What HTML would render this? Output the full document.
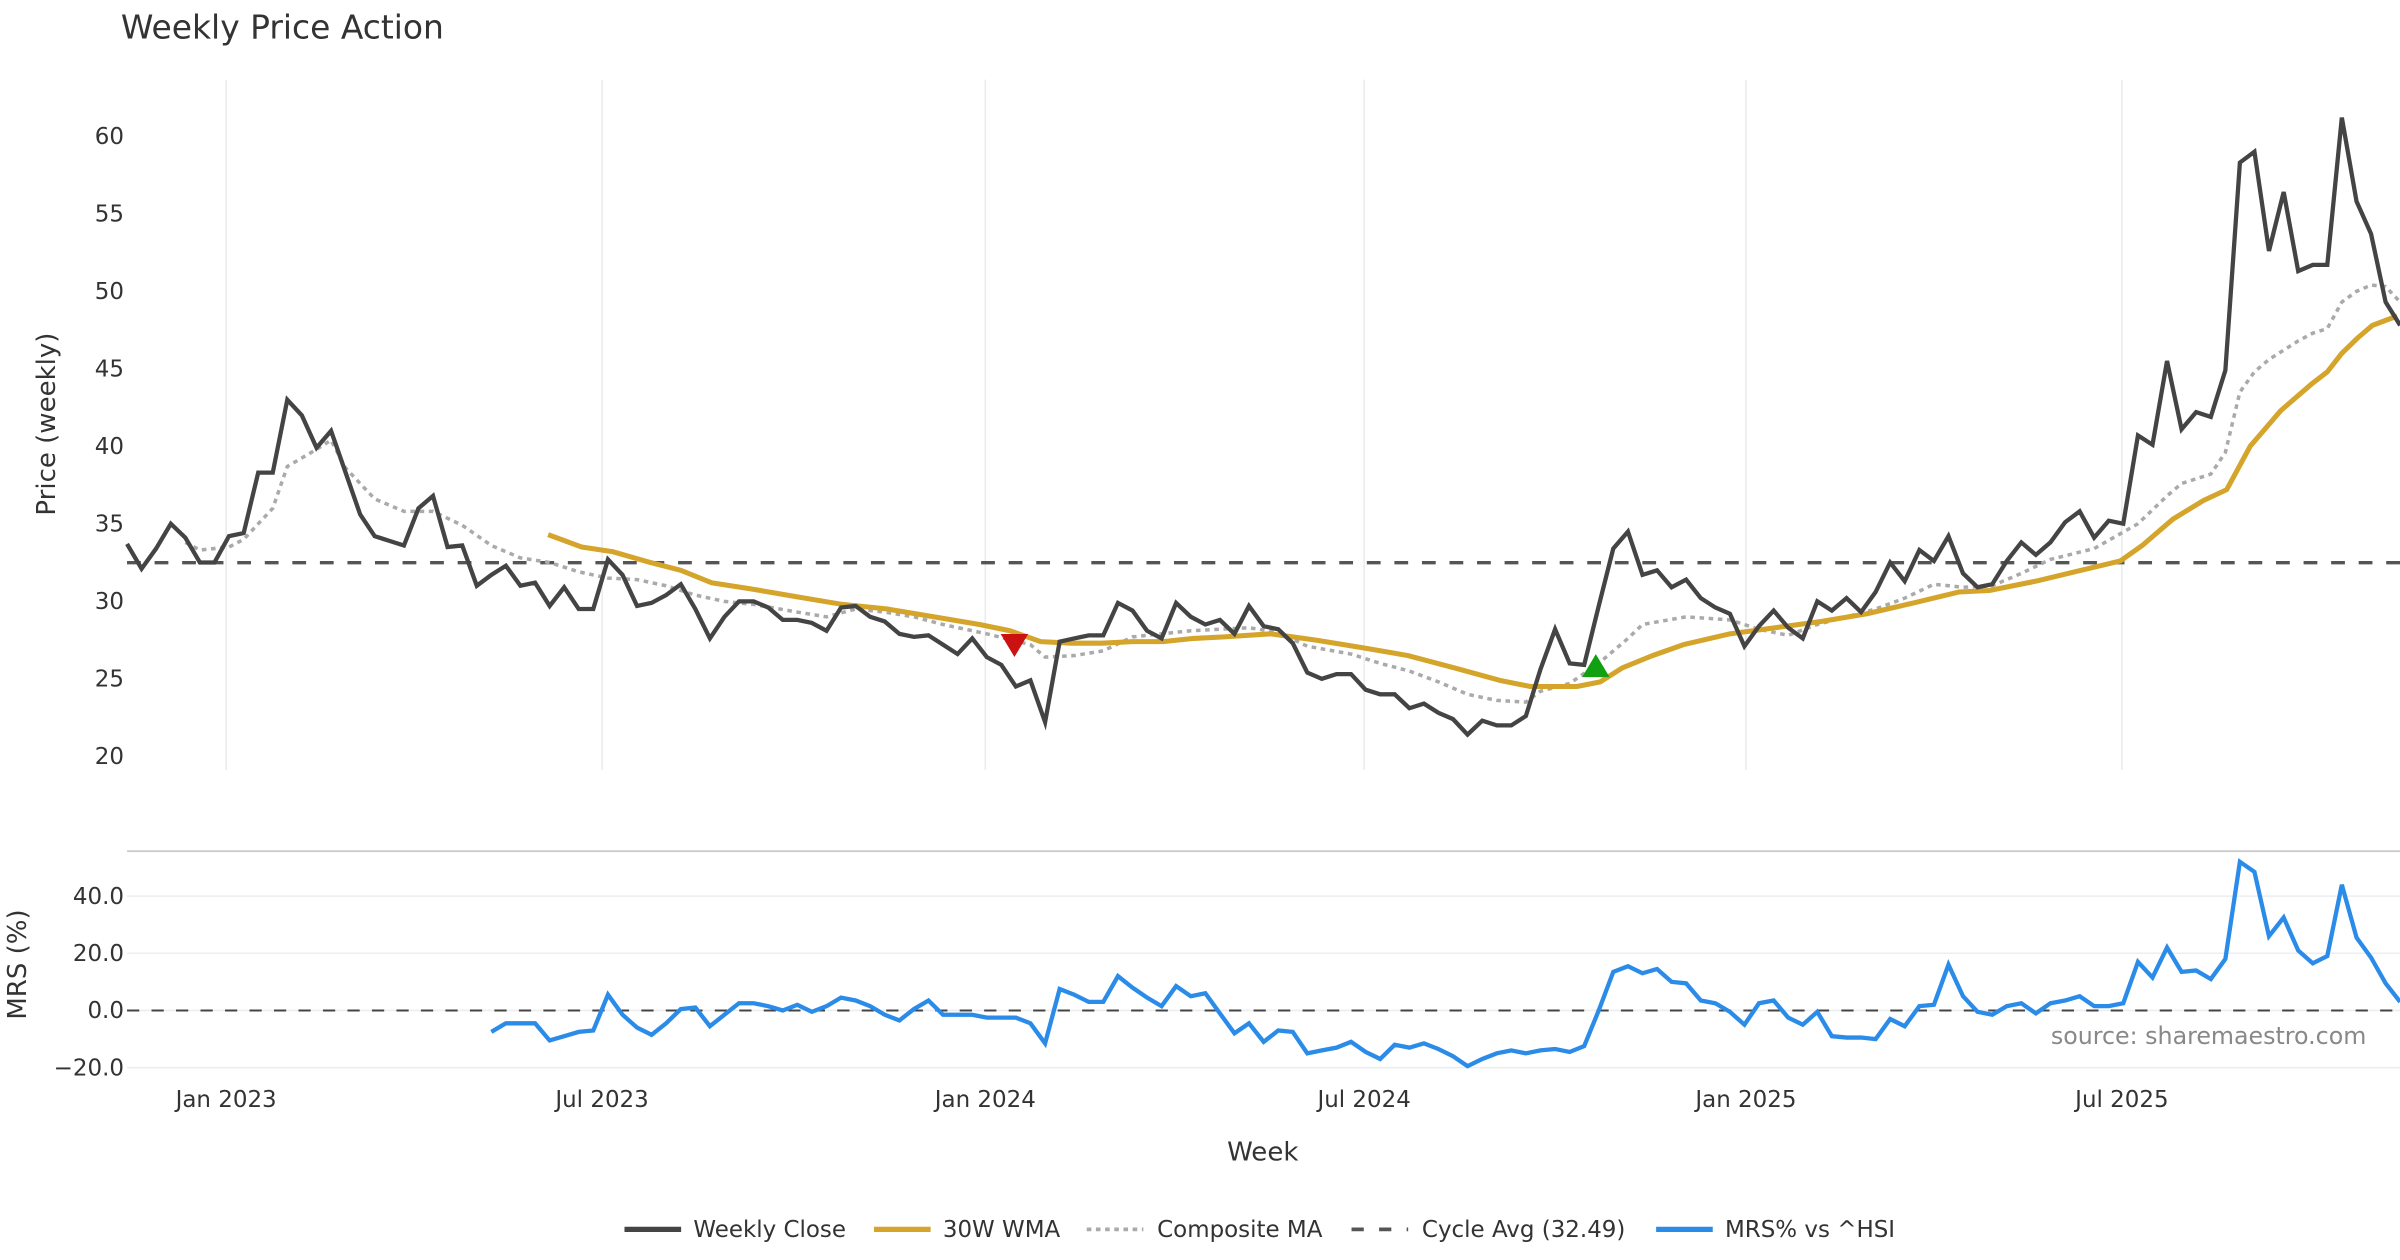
<!DOCTYPE html>
<html><head><meta charset="utf-8"><style>
html,body{margin:0;padding:0;background:#fff;}
svg{display:block;font-family:"DejaVu Sans","Liberation Sans",sans-serif;}
</style></head><body>
<svg id="chart" width="2400" height="1260" viewBox="0 0 1568 823" preserveAspectRatio="none" xmlns="http://www.w3.org/2000/svg">
<text x="79" y="25" font-size="21.5" fill="#333">Weekly Price Action</text>
<g id="grid"></g>
<g id="axes"></g>
<g id="series"></g>
<text transform="translate(36,277) rotate(-90)" text-anchor="middle" font-size="17" fill="#333">Price (weekly)</text>
<text transform="translate(17,630) rotate(-90)" text-anchor="middle" font-size="17" fill="#333">MRS (%)</text>
<text x="825" y="758" text-anchor="middle" font-size="17" fill="#333">Week</text>
<text x="1546" y="682" text-anchor="end" font-size="15.5" fill="#888">source: sharemaestro.com</text>
<line x1="83" y1="556" x2="1568" y2="556" stroke="#ccc" stroke-width="1.2"/>
<g font-size="15" fill="#333">
<line x1="408" y1="803" x2="445" y2="803" stroke="#444" stroke-width="3.5"/>
<text x="453" y="808">Weekly Close</text>
<line x1="571" y1="803" x2="608" y2="803" stroke="#D4A52A" stroke-width="3.5"/>
<text x="616" y="808">30W WMA</text>
<line x1="710" y1="803" x2="747" y2="803" stroke="#aaa" stroke-width="2.5" stroke-dasharray="3,3"/>
<text x="756" y="808">Composite MA</text>
<line x1="883" y1="803" x2="920" y2="803" stroke="#555" stroke-width="2.5" stroke-dasharray="8,10"/>
<text x="929" y="808">Cycle Avg (32.49)</text>
<line x1="1082" y1="803" x2="1119" y2="803" stroke="#2A8CE8" stroke-width="3.5"/>
<text x="1127" y="808">MRS% vs ^HSI</text>
</g>
</svg>
<script>
const closeVals=[33.7,32.1,33.4,35.0,34.1,32.5,32.5,34.2,34.4,38.3,38.3,43.0,42.0,39.9,41.0,38.3,35.6,34.2,33.9,33.6,36.0,36.8,33.5,33.6,31.0,31.7,32.3,31.0,31.2,29.7,30.9,29.5,29.5,32.7,31.7,29.7,29.9,30.4,31.1,29.5,27.6,29.0,30.0,30.0,29.6,28.8,28.8,28.6,28.1,29.6,29.7,29.0,28.7,27.9,27.7,27.8,27.2,26.6,27.6,26.4,25.9,24.5,24.9,22.2,27.4,27.6,27.8,27.8,29.9,29.4,28.1,27.6,29.9,29.0,28.5,28.8,27.9,29.7,28.4,28.2,27.3,25.4,25.0,25.3,25.3,24.3,24.0,24.0,23.1,23.4,22.8,22.4,21.4,22.3,22.0,22.0,22.6,25.6,28.2,26.0,25.9,29.7,33.4,34.5,31.7,32.0,30.9,31.4,30.2,29.6,29.2,27.1,28.4,29.4,28.3,27.6,30.0,29.4,30.2,29.3,30.6,32.5,31.3,33.3,32.6,34.2,31.8,30.9,31.1,32.6,33.8,33.0,33.8,35.1,35.8,34.1,35.2,35.0,40.7,40.1,45.5,41.1,42.2,41.9,44.9,58.3,59.0,52.6,56.4,51.3,51.7,51.7,61.2,55.8,53.7,49.3,47.8];
const wmaWeeks=[28.9,31.2,33.3,35.9,38.0,40.1,42.8,45.9,49.1,52.2,55.4,58.5,60.6,62.7,64.8,66.9,69.0,71.1,73.2,75.3,78.5,81.6,84.8,87.9,91.1,94.2,96.3,99.5,101.1,102.6,104.7,106.8,110.0,113.1,116.3,119.4,122.6,125.7,127.8,131.0,134.1,136.8,138.3,140.4,142.5,144.1,145.7,147.8,149.9,151.0,152.0,153.1,154.1,155.8];
const wmaVals=[34.3,33.5,33.2,32.5,32.0,31.2,30.8,30.3,29.8,29.5,29.0,28.5,28.1,27.4,27.3,27.3,27.4,27.4,27.6,27.7,27.9,27.5,27.0,26.5,25.7,24.9,24.5,24.5,24.8,25.7,26.5,27.2,27.9,28.3,28.7,29.2,29.9,30.6,30.7,31.3,32.0,32.6,33.6,35.3,36.5,37.2,40.0,42.3,44.0,44.8,46.0,47.0,47.8,48.4];
const compWeeks=[4,5,7,8,10,11,13,14,15,17,19,21,23,25,27,29,31,33,35,37,39,41,43,46,48,50,52,54,56,59,62,63,65,67,69,71,73,75,77,79,81,84,86,88,90,92,94,96,97,99,101,103,104,107,110,112,114,116,118,120,122,124,126,128,130,132,135,138,140,141,143,144,145,146,147,149,150,151,152,153,154,155,156];
const compVals=[33.8,33.3,33.5,34.0,36.0,38.7,39.8,40.4,38.6,36.6,35.8,35.8,34.9,33.6,32.8,32.5,31.9,31.5,31.4,31.0,30.4,30.0,29.8,29.3,29.0,29.5,29.3,29.0,28.5,27.9,27.2,26.4,26.5,26.8,27.7,27.9,28.1,28.2,28.3,28.0,27.1,26.6,26.0,25.5,24.8,24.0,23.6,23.5,24.2,24.7,26.0,27.6,28.5,29.0,28.8,28.2,27.8,28.5,29.0,29.5,30.2,31.1,30.9,31.0,31.8,32.7,33.4,35.0,36.8,37.6,38.2,39.6,43.5,44.8,45.6,46.8,47.3,47.6,49.3,50.0,50.4,50.3,49.3];
const mrsStart=25;
const mrsVals=[-7.5,-4.5,-4.5,-4.5,-10.5,-9,-7.5,-7,5.5,-1.5,-6,-8.5,-4.5,0.5,1,-5.5,-1.5,2.5,2.5,1.5,0,2,-0.5,1.5,4.5,3.5,1.5,-1.5,-3.5,0.5,3.5,-1.5,-1.5,-1.5,-2.5,-2.5,-2.5,-4.5,-11.5,7.5,5.5,3,3,12,8,4.5,1.5,8.5,5,6,-1,-8,-4.5,-11,-7,-7.5,-15,-14,-13,-11,-14.5,-17,-12,-13,-11.5,-13.5,-16,-19.5,-17,-15,-14,-15,-14,-13.5,-14.5,-12.5,0,13.5,15.5,13,14.5,10,9.5,3.5,2.5,-0.5,-5,2.5,3.5,-2.5,-5,-0.5,-9,-9.5,-9.5,-10,-3,-5.5,1.5,2,16,5,-0.5,-1.5,1.5,2.5,-1,2.5,3.5,5,1.5,1.5,2.5,17,11.5,22,13.5,14,11,18,52,48.5,26,32.5,21,16.5,19,44,25.5,18.5,9.5,3];
const cycleAvg=32.49;
const priceTicks=[20,25,30,35,40,45,50,55,60];
const mrsTicks=[-20,0,20,40];
const mrsTickLabels=["\u221220.0","0.0","20.0","40.0"];
const dateWeeks=[6.8,32.6,58.9,84.9,111.1,136.9];
const dateLabels=["Jan 2023","Jul 2023","Jan 2024","Jul 2024","Jan 2025","Jul 2025"];
const sellSignal=[60.9,27.2];
const buySignal=[100.8,25.8];

const NS="http://www.w3.org/2000/svg";
const X0=83, STEP=9.52;
function xs(i){return X0+i*STEP;}
function yp(v){return 494-(v-20)*10.125;}
function ym(v){return 660-v*1.8667;}
function mk(tag,attrs,parent){const e=document.createElementNS(NS,tag);for(const k in attrs)e.setAttribute(k,attrs[k]);parent.appendChild(e);return e;}
const grid=document.getElementById('grid'),axes=document.getElementById('axes'),ser=document.getElementById('series');

dateWeeks.forEach((w,k)=>{
  const g=mk('line',{x1:xs(w),x2:xs(w),y1:52,y2:503,stroke:'#e8ecef','stroke-width':1},grid);
  
  
  const t=mk('text',{x:xs(w),y:723,'text-anchor':'middle','font-size':15,fill:'#333'},axes);
  t.textContent=dateLabels[k];
  
  
});
priceTicks.forEach(v=>{
  const t=mk('text',{x:81,y:yp(v)+5,'text-anchor':'end','font-size':15,fill:'#333'},axes);
  t.textContent=v;
  
  
});
mrsTicks.forEach((v,k)=>{
  const g=mk('line',{x1:83,x2:1568,y1:ym(v),y2:ym(v),stroke:'#eceef0','stroke-width':1},grid);
  
  
  const t=mk('text',{x:81,y:ym(v)+5,'text-anchor':'end','font-size':15,fill:'#333'},axes);
  t.textContent=mrsTickLabels[k];
  
  
});
function pts(arrX,arrY,n,yf){let s=[];for(let i=0;i<n;i++)s.push(xs(arrX(i)).toFixed(1)+','+yf(arrY(i)).toFixed(1));return s.join(' ');}

const cyc=mk('line',{x1:83,x2:1568,y1:yp(cycleAvg),y2:yp(cycleAvg),stroke:'#555','stroke-width':2.2,'stroke-dasharray':'9,9'},ser);


const zl=mk('line',{x1:83,x2:1568,y1:ym(0),y2:ym(0),stroke:'#444','stroke-width':1.3,'stroke-dasharray':'8,8'},ser);



const wmaN=Math.min(wmaWeeks.length,wmaVals.length);
const compN=Math.min(compWeeks.length,compVals.length);
const comp=mk('polyline',{points:pts(i=>compWeeks[i],i=>compVals[i],compN,yp),fill:'none',stroke:'#aaa','stroke-width':2.3,'stroke-dasharray':'3,3'},ser);


const wma=mk('polyline',{points:pts(i=>wmaWeeks[i],i=>wmaVals[i],wmaN,yp),fill:'none',stroke:'#D4A52A','stroke-width':3.3,'stroke-linejoin':'round'},ser);


const cl=mk('polyline',{points:pts(i=>i,i=>closeVals[i],closeVals.length,yp),fill:'none',stroke:'#444','stroke-width':2.8,'stroke-linejoin':'miter'},ser);


const mrs=mk('polyline',{points:pts(i=>mrsStart+i,i=>mrsVals[i],mrsVals.length,ym),fill:'none',stroke:'#2A8CE8','stroke-width':2.8},ser);



const sx=xs(sellSignal[0]),sy=yp(sellSignal[1]);
const sell=mk('polygon',{points:`${sx-9},${sy-7} ${sx+9},${sy-7} ${sx},${sy+8}`,fill:'#CC1111'},ser);


const bx=xs(buySignal[0]),by=yp(buySignal[1]);
const buy=mk('polygon',{points:`${bx-9},${by+7} ${bx+9},${by+7} ${bx},${by-8}`,fill:'#11A011'},ser);


</script>
</body></html>
